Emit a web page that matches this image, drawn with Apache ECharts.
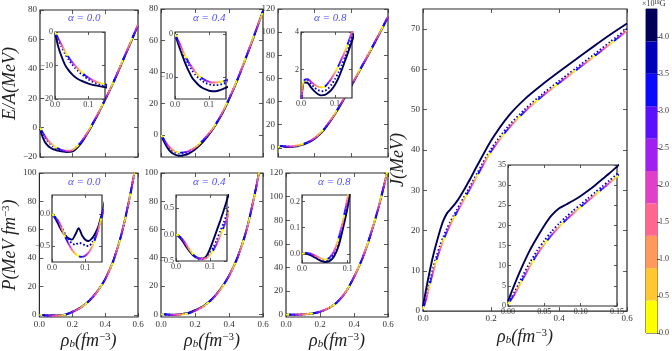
<!DOCTYPE html>
<html><head><meta charset="utf-8">
<script src="https://cdn.jsdelivr.net/npm/echarts@6/dist/echarts.min.js"></script>
<style>html,body{margin:0;padding:0;background:#fff}#c{width:672px;height:351px}</style>
</head><body><div id="c"></div>
<script>
// ---- data ----
const rho = [0,0.005,0.01,0.02,0.03,0.04,0.05,0.06,0.07,0.08,0.09,0.1,0.11,0.12,0.13,0.14,0.16,0.2,0.25,0.3,0.35,0.4,0.45,0.5,0.55,0.6];

const eA0_light = [0,-1.0,-2.0,-3.9,-5.8,-7.4,-8.8,-10.0,-11.1,-12.0,-12.9,-13.6,-14.2,-14.7,-15.1,-15.4,-15.8,-15.2,-10.0,-1.5,8.5,19.5,31.0,44.0,57.0,70.0];
const eA0_mid   = [0,-1.2,-2.4,-4.5,-6.5,-8.1,-9.5,-10.7,-11.7,-12.6,-13.4,-14.1,-14.7,-15.1,-15.5,-15.8,-16.1,-15.5,-10.3,-1.8,8.2,19.3,30.9,43.8,56.8,69.8];
const eA0_navy  = [0,-2.4,-4.5,-7.4,-9.8,-11.3,-12.5,-13.4,-14.1,-14.6,-15.0,-15.4,-15.7,-15.9,-16.1,-16.3,-16.6,-16.2,-11.0,-2.2,8.0,19.2,30.8,43.5,56.5,69.5];

const eA4_light = [0,-0.8,-1.6,-3.3,-5.0,-6.5,-7.7,-8.8,-9.6,-10.2,-10.7,-11.0,-11.2,-11.2,-11.1,-10.9,-10.4,-8.0,-3.0,3.5,12.0,23.0,35.5,49.5,64.0,78.5];
const eA4_mid   = [0,-0.9,-1.8,-3.7,-5.5,-7.0,-8.3,-9.4,-10.2,-10.8,-11.3,-11.6,-11.8,-11.8,-11.7,-11.5,-10.9,-8.4,-3.3,3.2,11.8,22.8,35.3,49.3,63.8,78.8];
const eA4_navy  = [0,-1.2,-2.4,-4.6,-6.7,-8.5,-10.0,-11.0,-11.8,-12.4,-12.8,-13.1,-13.2,-13.2,-13.0,-12.7,-12.0,-9.2,-4.0,2.8,11.5,22.5,35.0,49.0,63.5,79.0];

const eA8_light = [0,1.2,1.45,1.5,1.35,1.2,1.1,1.07,1.1,1.3,1.55,1.85,2.2,2.6,3.0,3.5,4.6,8.5,16.0,27.0,40.0,54.0,68.5,83.0,98.0,113.5];
const eA8_mid   = [0,1.15,1.4,1.42,1.25,1.05,0.92,0.86,0.88,1.0,1.22,1.5,1.85,2.25,2.7,3.2,4.3,8.1,15.6,26.6,39.6,53.6,68.2,82.8,97.8,113.3];
const eA8_navy  = [0,1.1,1.33,1.3,1.05,0.85,0.7,0.64,0.66,0.78,0.95,1.2,1.55,2.0,2.5,3.0,4.1,7.8,15.3,26.3,39.3,53.3,68.0,82.5,97.5,113.0];

const p0_light = [0,-0.02,-0.05,-0.12,-0.24,-0.36,-0.47,-0.56,-0.62,-0.66,-0.67,-0.65,-0.6,-0.51,-0.38,-0.22,0.2,2.0,5.0,9.5,16.0,25.0,38.0,57.0,83.0,114.0];
const p0_mid   = [0,-0.02,-0.05,-0.12,-0.22,-0.32,-0.4,-0.46,-0.48,-0.45,-0.46,-0.49,-0.5,-0.45,-0.35,-0.2,0.22,2.05,5.05,9.6,16.1,25.1,38.1,57.1,83.1,114.1];
const p0_navy  = [0,-0.03,-0.07,-0.17,-0.27,-0.34,-0.38,-0.4,-0.32,-0.22,-0.33,-0.4,-0.42,-0.38,-0.3,-0.18,0.25,2.1,5.1,9.7,16.2,25.2,38.2,57.2,83.2,114.2];

const p4_light = [0,-0.01,-0.03,-0.1,-0.19,-0.29,-0.37,-0.43,-0.46,-0.46,-0.44,-0.38,-0.29,-0.17,-0.02,0.14,0.5,2.4,5.5,10.5,17.5,27.0,40.0,58.0,84.0,115.0];
const p4_mid   = [0,-0.01,-0.04,-0.11,-0.2,-0.3,-0.38,-0.44,-0.47,-0.46,-0.42,-0.35,-0.24,-0.1,0.06,0.22,0.6,2.5,5.6,10.6,17.6,27.1,40.1,58.1,84.1,115.1];
const p4_navy  = [0,-0.02,-0.05,-0.13,-0.23,-0.32,-0.39,-0.43,-0.45,-0.45,-0.4,-0.27,-0.1,0.08,0.26,0.45,0.9,2.8,5.8,10.8,17.8,27.3,40.3,58.3,84.3,115.3];

const p8_light = [0,0.002,0.003,0.0,-0.008,-0.017,-0.022,-0.015,0.01,0.06,0.13,0.22,0.35,0.48,0.62,0.78,1.1,2.5,5.5,10.5,19.0,32.0,48.0,69.0,94.0,124.0];
const p8_mid   = [0,0.002,0.002,-0.003,-0.012,-0.022,-0.027,-0.022,0.0,0.045,0.115,0.205,0.33,0.46,0.6,0.76,1.08,2.45,5.45,10.45,18.9,31.9,47.9,68.9,93.9,123.9];
const p8_navy  = [0,0.001,0.0,-0.006,-0.016,-0.026,-0.031,-0.028,-0.01,0.03,0.1,0.18,0.3,0.43,0.58,0.74,1.05,2.4,5.4,10.4,18.8,31.8,47.8,68.8,93.8,123.8];

const j_light = [0.5,1.8,3.2,6.6,9.8,12.8,15.3,17.6,19.6,21.4,23.0,24.6,26.1,27.6,29.1,30.6,33.7,39.6,45.2,49.6,53.3,56.6,59.8,63.0,66.3,69.6];
const j_mid   = [0.8,2.2,3.8,7.4,10.7,13.7,16.2,18.5,20.4,22.1,23.7,25.2,26.7,28.2,29.7,31.2,34.3,40.2,45.8,50.1,53.8,57.1,60.3,63.5,66.8,70.1];
const j_navy  = [1.2,3.5,5.8,10.0,13.8,17.0,20.0,22.5,24.2,25.2,26.2,27.3,28.6,30.0,31.5,33.0,36.2,42.3,48.3,52.7,56.2,59.4,62.5,65.6,68.6,71.4];

// which curve group each field value uses: 0 light, 1 mid, 2 navy
const fieldGroup = [0,0,0,0,0,0,0,0,1,2];
// field colour bands (B = 0 ... 4.38 x10^18 G), bottom to top
const cbColors = ['#ffff00','#ffc832','#ff9a5c','#ff6690','#e040c8','#a020f0','#5a10ff','#0a0aff','#0000b8','#000058'];
const cbBands = [0.438,0.438,0.438,0.438,0.438,0.438,0.438,0.438,0.438,0.438];
const cbTicks = [0,0.5,1,1.5,2,2.5,3,3.5,4];

const alphaLabels = ['α = 0.0','α = 0.4','α = 0.8'];
const xTicksMain = [0,0.2,0.4,0.6];
const xTicksIn = [0,0.1];
const xTicksJin = [0,0.05,0.1,0.15];
const yTicksE0 = [-20,0,20,40,60,80];
const yTicksE4 = [0,20,40,60,80];
const yTicksE8 = [0,20,40,60,80,100,120];
const yTicksP0 = [0,20,40,60,80,100];
const yTicksP8 = [0,20,40,60,80,100,120];
const yTicksJ = [0,10,20,30,40,50,60,70];
const yTicksE0in = [-20,-10,0];
const yTicksE4in = [-10,0];
const yTicksE8in = [2,4];
const yTicksP0in = [-0.5,0];
const yTicksP4in = [-0.5,0,0.5];
const yTicksP8in = [0,0.1,0.2];
const yTicksJin = [0,5,10,15,20,25,30,35];

// ---- chart ----
const SERIF = 'Liberation Serif';
const drawOrder = [9,8,0,1,2,3,4,5,6,7];
function dashFor(i){ return i<8 ? {type:[3,21],dashOffset:i*3} : (i===8 ? {type:[1.5,2.2],dashOffset:0} : {type:'solid',dashOffset:0}); }
const grids=[], xAxes=[], yAxes=[], series=[];
function fmt(v,d){ const s=Math.abs(v).toFixed(d); return (v<0?'\u2212':'')+s; }
function addBox(b){
  const gi = grids.length, z=b.z||0, fs=b.fs||9;
  grids.push({left:b.box[0],top:b.box[1],width:b.box[2],height:b.box[3],show:true,borderColor:'#2a2a2a',borderWidth:1.2,backgroundColor:'#fff',z:z});
  const tk = (vals)=>({show:true,inside:true,length:b.tl||4,customValues:vals,lineStyle:{color:'#333',width:0.8}});
  const lab = (show,vals,d)=>({show:show,customValues:vals,formatter:v=>fmt(v,d),fontFamily:SERIF,fontSize:fs,color:'#333',margin:b.lm||3});
  const xi = xAxes.length;
  xAxes.push(Object.assign({type:'value',gridIndex:gi,position:'bottom',min:b.xr[0],max:b.xr[1],z:z+1,axisLine:{show:false,onZero:false},axisTick:tk(b.xt),axisLabel:lab(!!b.xlab,b.xt,b.xd),splitLine:{show:false}}, b.xname||{}));
  xAxes.push({type:'value',gridIndex:gi,position:'top',min:b.xr[0],max:b.xr[1],z:z+1,axisLine:{show:false,onZero:false},axisTick:tk(b.xt),axisLabel:{show:false},splitLine:{show:false}});
  const yi = yAxes.length;
  yAxes.push(Object.assign({type:'value',gridIndex:gi,position:'left',min:b.yr[0],max:b.yr[1],z:z+1,axisLine:{show:false,onZero:false},axisTick:tk(b.yt),axisLabel:lab(true,b.yt,b.yd),splitLine:{show:false}}, b.yname||{}));
  yAxes.push({type:'value',gridIndex:gi,position:'right',min:b.yr[0],max:b.yr[1],z:z+1,axisLine:{show:false,onZero:false},axisTick:tk(b.yt),axisLabel:{show:false},splitLine:{show:false}});
  if (b.curves){
    drawOrder.forEach(i=>{
      const ys = b.curves[fieldGroup[i]];
      const d = dashFor(i);
      series.push({type:'line',xAxisIndex:xi,yAxisIndex:yi,data:rho.map((x,k)=>[x,ys[k]]),showSymbol:false,smooth:0.25,z:z+2,silent:true,clip:true,
        lineStyle:{color:cbColors[i],width:b.lw||1.9,type:d.type,dashOffset:d.dashOffset,cap:'butt'}});
    });
  }
  return gi;
}
const nameStyle = {fontFamily:SERIF,fontStyle:'italic',fontSize:18,color:'#222'};
const richXY = {i:{fontFamily:SERIF,fontStyle:'italic',fontSize:18,color:'#222'},s:{fontFamily:SERIF,fontStyle:'italic',fontSize:11,color:'#222',verticalAlign:'bottom'},p:{fontFamily:SERIF,fontSize:11,color:'#222',verticalAlign:'top'}};
const xName = {name:'{i|ρ}{s|b}{i|(fm}{p|−3}{i|)}',nameLocation:'middle',nameGap:15,nameTextStyle:{rich:richXY}};

const panels = [
 {box:[36,10,102,147],yr:[-20,80],yt:yTicksE0,curves:[eA0_light,eA0_mid,eA0_navy],yname:{name:'E/A(MeV)',nameLocation:'middle',nameGap:16,nameTextStyle:nameStyle},
  inset:{box:[55,32,50,67],yr:[-20,0],yt:yTicksE0in,yd:0}},
 {box:[161,9,102,148],yr:[-14,80],yt:yTicksE4,curves:[eA4_light,eA4_mid,eA4_navy],
  inset:{box:[175,32,51,67],yr:[-15,0.5],yt:yTicksE4in,yd:0}},
 {box:[278,9,110,148],yr:[-8,120],yt:yTicksE8,curves:[eA8_light,eA8_mid,eA8_navy],
  inset:{box:[301,32,51,66],yr:[0.5,4],yt:yTicksE8in,yd:0}},
 {box:[36,173,102,149],yr:[-1.5,100],yt:yTicksP0,curves:[p0_light,p0_mid,p0_navy],xlab:true,xname:xName,
  yname:{name:'{i|P(MeV fm}{p|−3}{i|)}',nameLocation:'middle',nameGap:16,nameTextStyle:{rich:richXY}},
  inset:{box:[52,195,50,67],yr:[-0.75,0.3],yt:yTicksP0in,yd:1}},
 {box:[161,173,102,149],yr:[-2,100],yt:yTicksP0,curves:[p4_light,p4_mid,p4_navy],xlab:true,xname:xName,
  inset:{box:[176,195,51,66],yr:[-0.5,0.75],yt:yTicksP4in,yd:1}},
 {box:[286,173,102,149],yr:[-2,120],yt:yTicksP8,curves:[p8_light,p8_mid,p8_navy],xlab:true,xname:xName,
  inset:{box:[302,195,48,68],yr:[-0.035,0.225],yt:yTicksP8in,yd:1,xr:[0,0.105]}},
];
panels.forEach(p=>{
  addBox({box:p.box,xr:[0,0.6],yr:p.yr,xt:xTicksMain,yt:p.yt,xd:1,yd:0,xlab:p.xlab,xname:p.xname,yname:p.yname,curves:p.curves,z:0,fs:9});
  const q=p.inset;
  addBox({box:q.box,xr:q.xr||[0,0.15],yr:q.yr,xt:xTicksIn,yt:q.yt,xd:1,yd:q.yd,xlab:true,curves:p.curves,z:10,fs:8,tl:3,lm:2});
});
// J panel
addBox({box:[423,9,204,313],xr:[0,0.6],yr:[0,75],xt:xTicksMain,yt:yTicksJ,xd:1,yd:0,xlab:true,xname:xName,
  yname:{name:'J(MeV)',nameLocation:'middle',nameGap:15,nameTextStyle:nameStyle},curves:[j_light,j_mid,j_navy],z:0,fs:9});
addBox({box:[508,165,109,141],xr:[0,0.15],yr:[0,35],xt:xTicksJin,yt:yTicksJin,xd:2,yd:0,xlab:true,curves:[j_light,j_mid,j_navy],z:10,fs:8,tl:3,lm:2});

// colour bar
const cg = grids.length;
grids.push({left:646,top:9,width:11,height:324,show:true,borderColor:'#2a2a2a',borderWidth:1,backgroundColor:'transparent',z:0});
const cbx = xAxes.length;
xAxes.push({type:'category',gridIndex:cg,data:['B'],show:false});
const cby = yAxes.length;
yAxes.push({type:'value',gridIndex:cg,position:'right',min:0,max:4.38,z:4,axisLine:{show:false,onZero:false},splitLine:{show:false},
  axisTick:{show:true,inside:false,length:3,customValues:cbTicks,lineStyle:{color:'#333',width:0.8}},
  axisLabel:{customValues:cbTicks,formatter:v=>v.toFixed(1),fontFamily:SERIF,fontSize:8,color:'#333',margin:2}});
cbBands.forEach((h,i)=>series.push({type:'bar',xAxisIndex:cbx,yAxisIndex:cby,stack:'cb',data:[h],barWidth:'100%',z:2,silent:true,itemStyle:{color:cbColors[i]}}));

const graphics = [];
const alphaPos = [[87,20],[212,20],[333,20],[87,184],[212,184],[337,184]];
alphaPos.forEach((p,k)=>graphics.push({type:'text',left:p[0]-19,top:p[1]-7,z:20,style:{text:alphaLabels[k%3],fill:'#4f4fff',font:'italic 11px "Liberation Serif"'}}));
graphics.push({type:'text',left:642,top:0,z:20,style:{text:'×10¹⁸G',fill:'#333',font:'8px "Liberation Serif"'}});

const chart = echarts.init(document.getElementById('c'));
chart.setOption({animation:false,backgroundColor:'#fff',grid:grids,xAxis:xAxes,yAxis:yAxes,series:series,graphic:graphics});
</script></body></html>
